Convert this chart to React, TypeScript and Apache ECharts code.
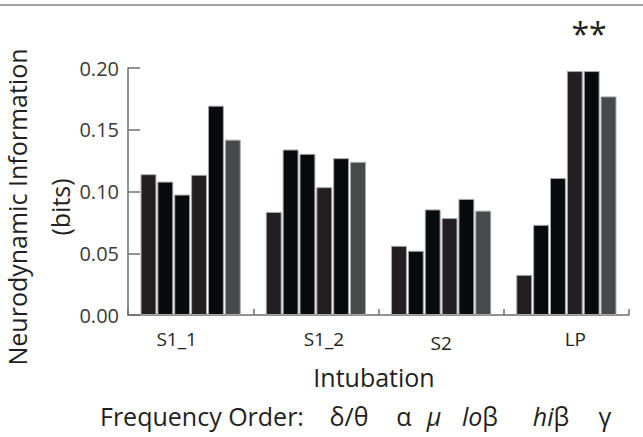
import React, { useEffect, useRef } from "react";
import * as echarts from "echarts";

const categories = ["S1_1", "S1_2", "S2", "LP"];
const bands = ["δ/θ", "α", "μ", "loβ", "hiβ", "γ"];
const deltaTheta = [0.114, 0.0835, 0.056, 0.0325];
const alpha = [0.108, 0.134, 0.052, 0.073];
const mu = [0.0975, 0.1305, 0.0855, 0.111];
const loBeta = [0.1135, 0.1035, 0.0785, 0.1975];
const hiBeta = [0.1695, 0.127, 0.094, 0.1975];
const gamma = [0.142, 0.124, 0.0845, 0.177];
const seriesValues = [deltaTheta, alpha, mu, loBeta, hiBeta, gamma];
const yTicks = [0, 0.05, 0.1, 0.15, 0.2];

const barColors = ["#231f20", "#080b0c", "#080b0c", "#231f20", "#080b0c", "#48494b"];
const FONT = "'Open Sans', 'DejaVu Sans', sans-serif";
const TEXT = "#231f20";

export default function App() {
  const ref = useRef<HTMLDivElement>(null);
  useEffect(() => {
    if (!ref.current) return;
    const chart = echarts.init(ref.current, undefined, { renderer: "svg" });
    const labelPad: Record<string, number[]> = {
      c0: [0, 28, 0, 0],
      c1: [0, 0, 0, 16],
      c2: [4, 0, 0, 0],
      c3: [0, 0, 0, 18],
    };
    const rich: Record<string, any> = {};
    Object.keys(labelPad).forEach((k) => {
      rich[k] = { padding: labelPad[k], fontSize: 19, fontFamily: FONT, color: TEXT };
    });
    chart.setOption({
      animation: false,
      backgroundColor: "#ffffff",
      grid: { left: 128, right: 14, top: 68, bottom: 122, containLabel: false },
      xAxis: {
        type: "category",
        data: categories,
        boundaryGap: true,
        axisLine: { show: true, lineStyle: { color: "#6e6e6e", width: 1.5 } },
        axisTick: { show: true, inside: true, length: 6, interval: 0, lineStyle: { color: "#6e6e6e", width: 1.5 } },
        axisLabel: {
          margin: 14,
          interval: 0,
          formatter: (v: string, i: number) => `{c${i}|${v}}`,
          rich,
        },
      },
      yAxis: {
        type: "value",
        min: yTicks[0],
        max: yTicks[yTicks.length - 1],
        interval: 0.05,
        splitLine: { show: false },
        axisLine: { show: true, lineStyle: { color: "#6e6e6e", width: 1.5 } },
        axisTick: { show: true, inside: true, length: 12, lineStyle: { color: "#6e6e6e", width: 1.5 } },
        axisLabel: {
          margin: 9,
          fontSize: 20,
          fontFamily: FONT,
          color: "#3a3a3a",
          formatter: (v: number) => v.toFixed(2),
        },
      },
      series: seriesValues.map((vals, i) => ({
        type: "bar",
        name: bands[i],
        data: vals,
        barCategoryGap: "20%",
        barGap: "6%",
        itemStyle: { color: barColors[i], borderColor: "#a8a8a8", borderWidth: 1 },
      })),
      graphic: [
        { type: "line", shape: { x1: 0, y1: 5, x2: 643, y2: 5 }, style: { stroke: "#a0a0a0", lineWidth: 2 } },
        {
          type: "text", x: 589, y: 33,
          style: { text: "**", font: `32px ${FONT}`, fill: TEXT, align: "center", verticalAlign: "middle" },
        },
        {
          type: "text", x: 17, y: 207, rotation: Math.PI / 2,
          style: { text: "Neurodynamic Information", font: `25px ${FONT}`, fill: TEXT, align: "center", verticalAlign: "middle" },
        },
        {
          type: "text", x: 60, y: 207, rotation: Math.PI / 2,
          style: { text: "(bits)", font: `25px ${FONT}`, fill: TEXT, align: "center", verticalAlign: "middle" },
        },
        {
          type: "text", x: 374, y: 377,
          style: { text: "Intubation", font: `25px ${FONT}`, fill: TEXT, align: "center", verticalAlign: "middle" },
        },
        {
          type: "text", x: 100, y: 416,
          style: { text: "Frequency Order:", font: `25px ${FONT}`, fill: TEXT, align: "left", verticalAlign: "middle" },
        },
        {
          type: "text", x: 349, y: 416,
          style: { text: bands[0], font: `25px ${FONT}`, fill: TEXT, align: "center", verticalAlign: "middle" },
        },
        {
          type: "text", x: 404, y: 416,
          style: { text: bands[1], font: `25px ${FONT}`, fill: TEXT, align: "center", verticalAlign: "middle" },
        },
        {
          type: "text", x: 434, y: 416,
          style: { text: bands[2], font: `italic 25px ${FONT}`, fill: TEXT, align: "center", verticalAlign: "middle" },
        },
        {
          type: "text", x: 480, y: 416,
          style: {
            text: "{i|lo}{n|β}", align: "center", verticalAlign: "middle",
            rich: {
              i: { font: `italic 25px ${FONT}`, fill: TEXT },
              n: { font: `25px ${FONT}`, fill: TEXT },
            },
          },
        },
        {
          type: "text", x: 551, y: 416,
          style: {
            text: "{i|hi}{n|β}", align: "center", verticalAlign: "middle",
            rich: {
              i: { font: `italic 25px ${FONT}`, fill: TEXT },
              n: { font: `25px ${FONT}`, fill: TEXT },
            },
          },
        },
        {
          type: "text", x: 605, y: 416,
          style: { text: bands[5], font: `25px ${FONT}`, fill: TEXT, align: "center", verticalAlign: "middle" },
        },
      ],
    });
    return () => chart.dispose();
  }, []);
  return (
    <div
      ref={ref}
      style={{ position: "absolute", left: 0, top: 0, width: 643, height: 437, background: "#fff" }}
    />
  );
}
